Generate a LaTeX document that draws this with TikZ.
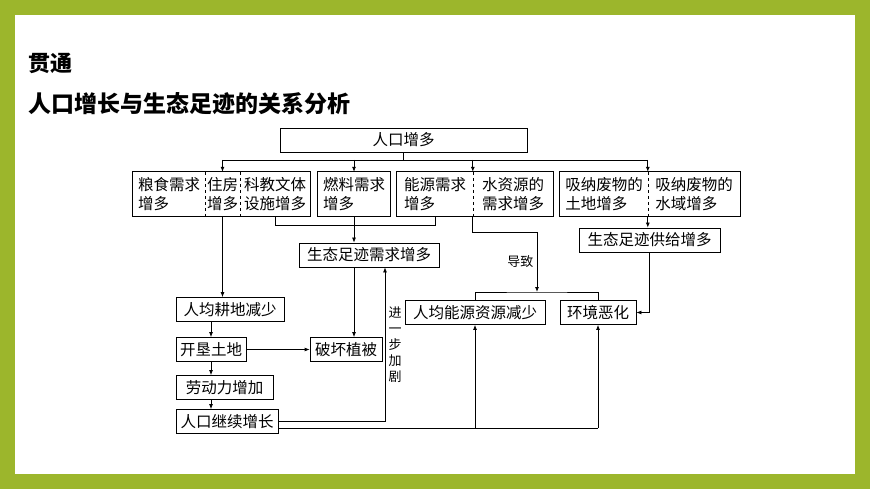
\documentclass[tikz,border=0pt]{standalone}
\usepackage{fontspec}
\newfontfamily\cjk{Noto Sans CJK SC}
\usetikzlibrary{arrows.meta,fit}
\definecolor{frame}{HTML}{9CB62C}

\begin{document}
\begin{tikzpicture}[x=1pt,y=-1pt,font=\cjk\fontsize{15.5}{19}\selectfont]
  \tikzset{box/.style = {draw,inner sep=1pt,minimum height=24pt,line width=0.8pt}}
  \tikzset{part/.style = {inner sep=1pt,minimum height=44pt,align=left}}
  \tikzset{edge/.style = {-{Latex[length=5pt,width=4pt]},line width=0.8pt}}
  \tikzset{link/.style = {line width=0.8pt}}
  \tikzset{split/.style = {dashed,line width=0.8pt}}

  \fill[frame] (0,0) rectangle (870,489);
  \fill[white] (15,15) rectangle (855,474);
  \node[anchor=west,inner sep=0pt,font=\cjk\bfseries\fontsize{22}{24}\selectfont] (title) at (28,63) {贯通};
  \node[anchor=west,inner sep=0pt,font=\cjk\bfseries\fontsize{23}{25}\selectfont] (sub) at (28,104) {人口增长与生态足迹的关系分析};

	\node[box,minimum width=247pt] (RK) at (403.5,140) {人口增多};

	\node[part,minimum width=72pt] (LS) at (169,194) {粮食需求\\增多};
	\node[part,minimum width=35pt] (ZF) at (222.5,194) {住房\\增多};
	\node[part,minimum width=70pt] (KJ) at (275,194) {科教文体\\设施增多};
	\node[part,minimum width=72pt] (RL) at (354,194) {燃料需求\\增多};
	\node[part,minimum width=76pt] (NY) at (435,194) {能源需求\\增多};
	\node[part,minimum width=80pt] (SZ) at (513,194) {水资源的\\需求增多};
	\node[part,minimum width=88pt] (TD) at (604,194) {吸纳废物的\\土地增多};
	\node[part,minimum width=92pt] (SY) at (694,194) {吸纳废物的\\水域增多};
	\node[draw,link,fit=(LS)(KJ),inner sep=0pt] (G1) {};
	\node[draw,link,fit=(RL),inner sep=0pt] (G2) {};
	\node[draw,link,fit=(NY)(SZ),inner sep=0pt] (G3) {};
	\node[draw,link,fit=(TD)(SY),inner sep=0pt] (G4) {};
	\draw[split] (LS.north east) -- (LS.south east);
	\draw[split] (ZF.north east) -- (ZF.south east);
	\draw[split] (NY.north east) -- (NY.south east);
	\draw[split] (TD.north east) -- (TD.south east);

	\node[box,minimum width=140pt] (XQ) at (369,255) {生态足迹需求增多};
	\node[box,minimum width=141pt] (GJ) at (649.5,240) {生态足迹供给增多};

	\node[box,minimum width=108pt] (GD) at (230,309.5) {人均耕地减少};
	\node[box,minimum width=70pt] (KK) at (211,349.5) {开垦土地};
	\node[box,minimum width=97pt] (LD) at (224.5,387.5) {劳动力增加};
	\node[box,minimum width=102pt] (JX) at (227,421.5) {人口继续增长};
	\node[box,minimum width=72pt] (PH) at (346,349.5) {破坏植被};
	\node[box,minimum width=140pt] (NZ) at (475,312.5) {人均能源资源减少};
	\node[box,minimum width=76pt] (HJ) at (598,312.5) {环境恶化};

	\coordinate (bus) at (403.5,160);
	\draw[link] (RK) -- (bus);
	\draw[link] (ZF.north |- bus) -- (SY.north west |- bus);
    \foreach \to in {ZF.north, RL.north, SZ.north west, SY.north west}
    \draw[edge] (\to |- bus) -- (\to);

	\draw[link] (KJ.south) -- ++(0,9) -| (NY.south);
	\draw[edge] (RL.south) -- (XQ.north -| RL.south);
	\draw[edge] (SY.south west) -- (GJ.north -| SY.south west);
	\draw[edge] (ZF.south) -- (GD.north -| ZF.south);
	\draw[edge] (GD.south -| KK) -- (KK);
	\draw[edge] (KK) -- (LD.north -| KK);
	\draw[edge] (LD.south -| KK) -- (JX.north -| KK);
	\draw[edge] (KK) -- (PH);
	\draw[edge] (XQ.south -| RL.south) -- (PH.north -| RL.south);
	\draw[edge] (JX.east) -| (XQ.south -| 385,0)
	  node[pos=0.75,right,align=center,font=\cjk\fontsize{13}{16}\selectfont] {进\\一\\步\\加\\剧};

	\coordinate (top) at (537,292);
	\draw[link] (NZ.north) |- (top) -| (HJ.north);
	\draw[edge] (SZ.south west) |- (537,232) -- (top)
	  node[pos=0.5,left,font=\cjk\fontsize{13}{16}\selectfont] {导致};
	\draw[edge] (GJ.south) |- (HJ.east);
	\draw[link] (JX.east |- 0,428) -- (HJ.south |- 0,428);
	\draw[edge] (NZ.south |- 0,428) -- (NZ.south);
	\draw[edge] (HJ.south |- 0,428) -- (HJ.south);
\end{tikzpicture}
\end{document}
